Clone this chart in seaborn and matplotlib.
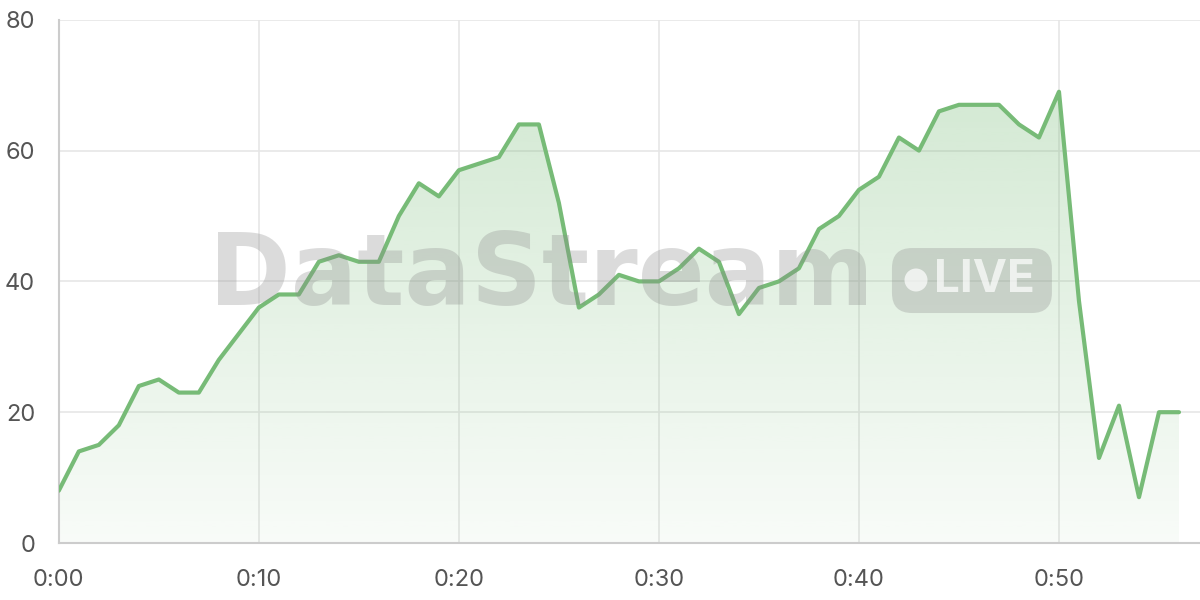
import numpy as np
import pandas as pd
import seaborn as sns
import matplotlib.pyplot as plt
from matplotlib.colors import to_rgb
from matplotlib.patches import FancyBboxPatch, Ellipse

# data: one reading per minute
minutes = list(range(57))
values = [8, 14, 15, 18, 24, 25, 23, 23, 28, 32,
          36, 38, 38, 43, 44, 43, 43, 50, 55, 53,
          57, 58, 59, 64, 64, 52, 36, 38, 41, 40,
          40, 42, 45, 43, 35, 39, 40, 42, 48, 50,
          54, 56, 62, 60, 66, 67, 67, 67, 64, 62,
          69, 37, 13, 21, 7, 20, 20]
tick_pos = [0, 10, 20, 30, 40, 50]
tick_labels = ["0:00", "0:10", "0:20", "0:30", "0:40", "0:50"]

df = pd.DataFrame({"minute": minutes, "value": values})

sns.set_style("whitegrid")
plt.rcParams['font.family'] = ['Inter', 'DejaVu Sans']

line_col = "#77bb77"
grid_col = "#e6e6e6"

fig = plt.figure(figsize=(12, 6), dpi=100)
ax = fig.add_axes([0.049, 0.095, 0.951, 0.872])

# gradient fill under the line
rgb = to_rgb(line_col)
grad = np.zeros((256, 1, 4))
grad[:, 0, :3] = rgb
grad[:, 0, 3] = np.linspace(0.32, 0.05, 256)
poly = ax.fill_between(df["minute"], df["value"], 0, color="none", lw=0)
im = ax.imshow(grad, aspect="auto", extent=[0, 56, 0, max(values)],
               origin="upper", zorder=1)
im.set_clip_path(poly.get_paths()[0], transform=ax.transData)

sns.lineplot(data=df, x="minute", y="value", color=line_col, lw=3, ax=ax, zorder=3)

ax.set_xlim(0, 57.05)
ax.set_ylim(0, 80)
ax.set_xticks(tick_pos)
ax.set_xticklabels(tick_labels)
ax.set_yticks([0, 20, 40, 60, 80])
ax.set_xlabel("")
ax.set_ylabel("")
ax.grid(True, color=grid_col, lw=1.2)
ax.tick_params(axis="both", length=11, width=1.2, color=grid_col,
               labelsize=17, labelcolor="#555555")
ax.tick_params(axis="x", pad=8)
ax.tick_params(axis="y", pad=6)
for s in ["top", "right"]:
    ax.spines[s].set_visible(False)
for s in ["left", "bottom"]:
    ax.spines[s].set_color("#cccccc")
    ax.spines[s].set_linewidth(1.5)

# watermark
wm_gray = "#8a8a8a"
fig.text(0.451, 0.538, "DataStream", fontsize=71, fontweight="bold",
         family="DejaVu Sans", color=wm_gray, alpha=0.3,
         ha="center", va="center", zorder=2)
badge = FancyBboxPatch((0.7433, 0.4783), 0.1333, 0.1083,
                       boxstyle="round,pad=0,rounding_size=0.0167",
                       mutation_aspect=2, transform=fig.transFigure,
                       fc=wm_gray, ec="none", alpha=0.3, zorder=2)
fig.patches.append(badge)
fig.patches.append(Ellipse((916 / 1200, 1 - 280 / 600), 23 / 1200, 23 / 600,
                           transform=fig.transFigure, fc="white", ec="none",
                           alpha=0.7, zorder=3))
fig.text(0.8204, 0.533, "LIVE", fontsize=33, fontweight="bold",
         family="Inter", color="white", alpha=0.7,
         ha="center", va="center", zorder=3)

fig.savefig("out.png", dpi=100)
